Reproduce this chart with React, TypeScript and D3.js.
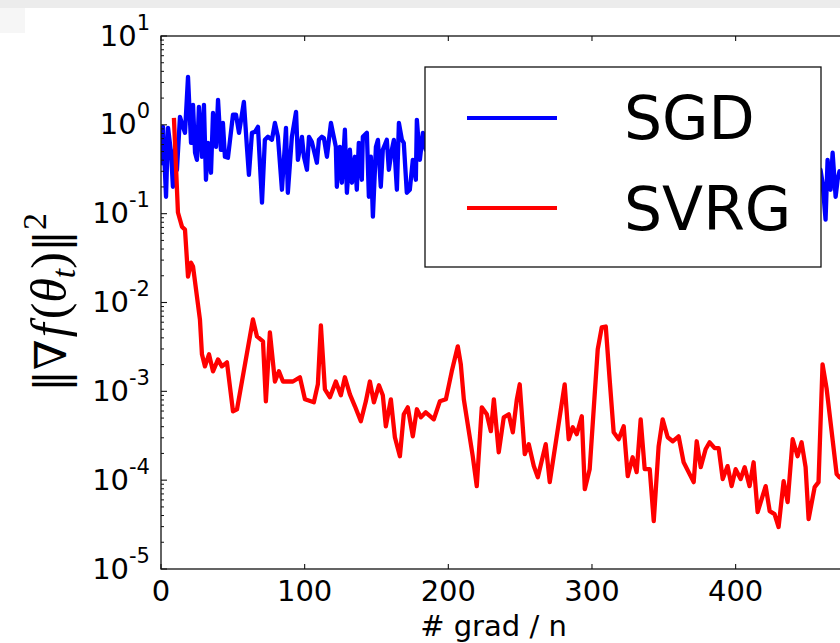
import React from "react";
import * as d3 from "d3";

const xTicks = [0, 100, 200, 300, 400];
const yDecades = [-5, -4, -3, -2, -1, 0, 1];

const sgdX = [0, 1.4, 3.5, 4.9, 7.0, 8.3, 9.7, 11.1, 13.2, 15.3, 16.7, 18.8, 20.9, 22.3, 23.7, 25.0, 26.4, 28.5, 29.9, 31.3, 32.7, 34.8, 36.2, 38.3, 39.7, 41.7, 43.1, 44.5, 46.6, 50.1, 52.2, 54.3, 57.7, 59.8, 61.2, 63.3, 65.4, 67.5, 70.3, 72.3, 74.4, 77.2, 79.3, 81.4, 84.2, 87.0, 88.3, 91.1, 94.0, 95.3, 98.1, 99.5, 101.6, 103.0, 105.0, 108.5, 109.9, 112.0, 113.4, 115.5, 116.9, 118.3, 119.7, 121.7, 122.4, 124.5, 125.9, 128.0, 129.4, 131.5, 132.9, 135.0, 136.3, 137.7, 139.8, 140.5, 143.3, 144.7, 146.1, 147.5, 149.6, 151.0, 153.0, 154.4, 157.2, 158.6, 160.7, 162.1, 164.2, 165.6, 167.7, 169.0, 171.1, 173.2, 175.3, 177.4, 178.1, 180.2, 182.3, 184.3, 459.1, 460.5, 462.6, 464.0, 466.1, 467.5, 469.6, 471.0, 472.3, 474.0];
const sgdY = [0.35, 0.95, 0.155, 0.925, 0.485, 0.201, 0.524, 0.312, 1.23, 0.95, 0.813, 3.46, 0.628, 1.68, 0.485, 0.404, 1.59, 0.437, 1.68, 0.241, 0.628, 0.289, 1.36, 0.566, 1.91, 0.524, 1.05, 0.437, 0.426, 1.30, 1.30, 0.813, 1.81, 0.566, 0.274, 0.813, 0.834, 0.95, 0.133, 0.678, 0.733, 0.678, 1.05, 0.733, 0.186, 0.925, 0.172, 0.733, 1.40, 0.404, 0.733, 0.437, 0.312, 0.733, 0.644, 0.374, 0.678, 0.733, 0.71, 0.437, 0.678, 1.05, 0.813, 0.566, 0.201, 0.566, 0.223, 0.88, 0.172, 0.524, 0.223, 0.437, 0.186, 0.628, 0.241, 0.733, 0.813, 0.155, 0.437, 0.0925, 0.566, 0.678, 0.201, 0.524, 0.678, 0.312, 0.524, 0.678, 0.186, 1.05, 0.678, 0.628, 0.172, 0.186, 0.404, 0.241, 1.14, 0.404, 0.813, 0.524, 0.312, 0.223, 0.0857, 0.404, 0.186, 0.485, 0.155, 0.241, 0.30, 0.28];

const svrgX = [9.0, 11.8, 14.6, 16.7, 18.8, 20.9, 22.3, 27.1, 28.5, 30.6, 33.4, 36.2, 39.7, 42.4, 45.9, 50.1, 52.9, 64.0, 66.8, 71.0, 73.0, 75.8, 79.3, 82.1, 84.9, 91.8, 96.7, 100.2, 106.4, 109.2, 111.3, 114.1, 117.6, 121.7, 125.2, 128.0, 131.5, 135.0, 139.1, 142.6, 145.4, 148.2, 151.7, 154.4, 156.5, 160.0, 162.8, 166.3, 169.0, 171.8, 175.3, 178.1, 180.9, 184.3, 189.9, 194.1, 198.3, 202.4, 206.6, 208.7, 210.8, 217.0, 219.8, 223.3, 226.8, 229.6, 231.7, 235.1, 238.6, 242.1, 244.9, 247.7, 249.7, 253.2, 256.0, 259.5, 262.3, 267.8, 270.6, 281.0, 283.8, 286.6, 289.4, 292.9, 295.0, 298.4, 304.0, 306.8, 309.6, 312.3, 315.1, 318.6, 322.1, 324.9, 328.3, 331.1, 333.9, 336.7, 340.2, 343.0, 346.4, 349.2, 352.7, 356.2, 360.3, 363.8, 370.8, 372.9, 375.7, 379.1, 381.9, 385.4, 388.2, 391.0, 394.4, 397.2, 400.0, 403.5, 406.3, 409.7, 412.5, 415.3, 420.9, 423.7, 427.1, 429.9, 433.4, 436.2, 439.7, 443.1, 445.9, 448.7, 450.8, 455.0, 457.7, 460.5, 463.3, 470.3, 472.3, 475.8];
const svrgY = [1.20, 0.103, 0.0714, 0.0661, 0.0196, 0.0281, 0.0254, 0.00644, 0.00261, 0.00191, 0.00261, 0.00168, 0.00229, 0.00191, 0.00212, 0.000596, 0.000628, 0.00644, 0.00415, 0.00365, 0.000772, 0.0046, 0.00129, 0.00168, 0.00129, 0.00129, 0.00144, 0.000813, 0.000752, 0.0012, 0.00552, 0.00105, 0.000857, 0.00129, 0.000902, 0.00144, 0.000925, 0.000678, 0.00046, 0.000772, 0.00129, 0.000752, 0.00117, 0.000902, 0.000404, 0.000813, 0.000304, 0.000186, 0.000552, 0.000661, 0.000312, 0.000628, 0.00051, 0.000581, 0.000484, 0.000772, 0.000813, 0.00168, 0.00321, 0.00201, 0.000813, 0.000186, 0.0000857, 0.000661, 0.000552, 0.000356, 0.000813, 0.000206, 0.00051, 0.000552, 0.000346, 0.000813, 0.0012, 0.000196, 0.000254, 0.000144, 0.000108, 0.000254, 0.000095, 0.0012, 0.000289, 0.000394, 0.000329, 0.000524, 0.0000792, 0.000133, 0.00296, 0.00524, 0.00537, 0.00136, 0.000346, 0.000289, 0.000404, 0.000111, 0.000181, 0.000123, 0.000484, 0.000133, 0.000133, 0.0000346, 0.000241, 0.000484, 0.000304, 0.000274, 0.000312, 0.000159, 0.000095, 0.000274, 0.00014, 0.000223, 0.000267, 0.000229, 0.000229, 0.000103, 0.000144, 0.0000857, 0.000133, 0.000103, 0.00014, 0.0000857, 0.000159, 0.0000437, 0.0000857, 0.0000449, 0.0000415, 0.0000297, 0.0000975, 0.0000566, 0.000289, 0.000186, 0.000267, 0.00014, 0.0000365, 0.0000834, 0.000095, 0.00201, 0.00108, 0.000117, 0.000108, 0.0001];

const seriesNames = ["SGD", "SVRG"];
const seriesColors = ["#0000ff", "#ff0000"];

const W = 840;
const H = 643;
const left = 161;
const right = 852;
const top = 36;
const bottom = 569;

function zip(xs: number[], ys: number[]) {
  const n = Math.min(xs.length, ys.length);
  const out: [number, number][] = [];
  for (let i = 0; i < n; i++) out.push([xs[i], ys[i]]);
  return out;
}

export default function App() {
  const x = d3.scaleLinear().domain([0, 481]).range([left, right]);
  const y = d3.scaleLog().domain([1e-5, 10]).range([bottom, top]);
  const line = d3
    .line<[number, number]>()
    .x((d) => x(d[0]))
    .y((d) => y(d[1]));

  const sgd = zip(sgdX, sgdY);
  const svrg = zip(svrgX, svrgY);

  const minor: number[] = [];
  for (let e = -5; e < 1; e++) {
    for (let k = 2; k <= 9; k++) minor.push(k * Math.pow(10, e));
  }

  const font = "'DejaVu Sans', sans-serif";
  const serif = "'Liberation Serif', 'DejaVu Serif', serif";

  return (
    <svg
      width={W}
      height={H}
      style={{ position: "absolute", left: 0, top: 0, background: "#fff" }}
    >
      <rect x={0} y={0} width={W} height={H} fill="#ffffff" />
      <rect x={0} y={0} width={W} height={8} fill="#ececec" />
      <rect x={0} y={8} width={25} height={25} fill="#f6f6f6" />
      <defs>
        <clipPath id="plotclip">
          <rect x={left} y={top} width={right - left} height={bottom - top} />
        </clipPath>
      </defs>

      <g clipPath="url(#plotclip)">
        <path
          d={line(sgd) || ""}
          fill="none"
          stroke={seriesColors[0]}
          strokeWidth={4.3}
          strokeLinejoin="round"
        />
        <path
          d={line(svrg) || ""}
          fill="none"
          stroke={seriesColors[1]}
          strokeWidth={4.3}
          strokeLinejoin="round"
        />
      </g>

      <rect
        x={left}
        y={top}
        width={right - left}
        height={bottom - top}
        fill="none"
        stroke="#111"
        strokeWidth={1.3}
      />

      {xTicks.map((t) => (
        <g key={"xt" + t}>
          <line x1={x(t)} x2={x(t)} y1={bottom} y2={bottom - 5} stroke="#111" strokeWidth={1.1} />
          <line x1={x(t)} x2={x(t)} y1={top} y2={top + 5} stroke="#111" strokeWidth={1.1} />
          <text x={x(t)} y={601} textAnchor="middle" fontFamily={font} fontSize={29} fill="#000">
            {t}
          </text>
        </g>
      ))}

      {yDecades.map((e) => (
        <g key={"yt" + e}>
          <line x1={left} x2={left + 6} y1={y(Math.pow(10, e))} y2={y(Math.pow(10, e))} stroke="#111" strokeWidth={1.1} />
          <text
            x={150}
            y={y(Math.pow(10, e)) + 9.5}
            textAnchor="end"
            fontFamily={font}
            fontSize={29}
            fill="#000"
          >
            10
            <tspan fontSize={21} dy={-16}>
              {e < 0 ? "-" + Math.abs(e) : String(e)}
            </tspan>
          </text>
        </g>
      ))}
      {minor.map((v, i) => (
        <line key={"ym" + i} x1={left} x2={left + 3} y1={y(v)} y2={y(v)} stroke="#111" strokeWidth={1} />
      ))}

      <text
        x={(left + right) / 2 - 13}
        y={636}
        textAnchor="middle"
        fontFamily={font}
        fontSize={29}
        fill="#000"
      >
        # grad / n
      </text>
      <text
        transform={`translate(66, ${(top + bottom) / 2}) rotate(-90)`}
        textAnchor="middle"
        fontFamily={serif}
        fontSize={50}
        fill="#000"
      >
        <tspan fontFamily="'DejaVu Serif', serif" fontSize={44}>‖∇</tspan>
        <tspan fontStyle="italic" dx={2}>f</tspan>
        <tspan dx={4}>(</tspan>
        <tspan fontStyle="italic">θ</tspan>
        <tspan fontStyle="italic" fontSize={34} dy={9}>t</tspan>
        <tspan dy={-9}>)</tspan>
        <tspan fontFamily="'DejaVu Serif', serif" fontSize={44}>‖</tspan>
        <tspan fontSize={34} dy={-20}>2</tspan>
      </text>

      <rect x={425} y={67} width={396} height={200} fill="#fff" stroke="#111" strokeWidth={1.3} />
      {seriesNames.map((name, i) => (
        <g key={name}>
          <line
            x1={467}
            x2={557}
            y1={118 + i * 90}
            y2={118 + i * 90}
            stroke={seriesColors[i]}
            strokeWidth={4}
          />
          <text x={624} y={139 + i * 91} fontFamily={font} fontSize={60} fill="#000">
            {name}
          </text>
        </g>
      ))}
    </svg>
  );
}
